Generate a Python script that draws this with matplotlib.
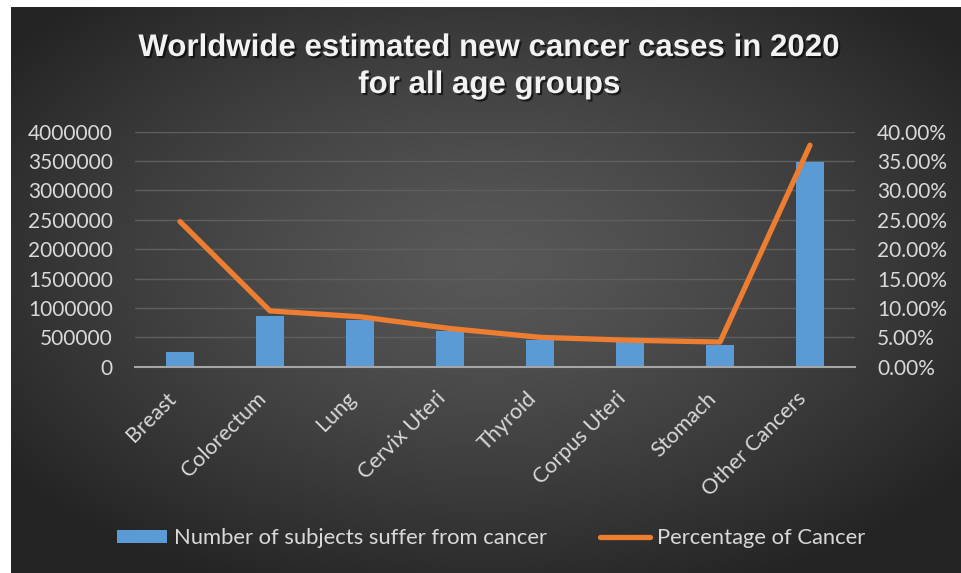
import matplotlib.pyplot as plt
import matplotlib.patheffects as pe
from matplotlib.patches import Patch
from matplotlib.lines import Line2D
from matplotlib.ticker import FuncFormatter, MultipleLocator
import numpy as np

# data
cancers = ['Breast', 'Colorectum', 'Lung', 'Cervix Uteri', 'Thyroid',
           'Corpus Uteri', 'Stomach', 'Other Cancers']
subjects = [245000, 870000, 800000, 605000, 455000, 420000, 370000, 3490000]
percent = [0.247, 0.095, 0.085, 0.065, 0.050, 0.045, 0.042, 0.377]

W, H = 962, 573
fig = plt.figure(figsize=(W / 100, H / 100), dpi=100)
fig.patch.set_facecolor('white')

# dark radial gradient background (white strip left and top)
bg = fig.add_axes([11 / W, 0, (W - 11) / W, (H - 7) / H])
bg.set_axis_off()
yy, xx = np.mgrid[0:1:300j, 0:1:500j]
r = np.sqrt(((xx - 0.5) / 0.62) ** 2 + ((yy - 0.45) / 0.62) ** 2)
shade = np.clip(0.345 - 0.2 * r ** 1.3, 0.14, 1)
bg.imshow(np.dstack([shade] * 3), aspect='auto', extent=[0, 1, 0, 1],
          interpolation='bicubic')
bg.set_xlim(0, 1)
bg.set_ylim(0, 1)

txt = '#d9d9d9'
fnt = ['Lato', 'DejaVu Sans']
fsz = 15

ax = fig.add_axes([135 / W, 1 - 366.7 / H, 720 / W, 235 / H])
ax.set_facecolor('none')
x = np.arange(len(cancers))
ax.bar(x, subjects, width=0.31, color='#5b9bd5', zorder=3)
ax.set_xlim(-0.5, len(cancers) - 0.5)
ax.set_ylim(0, 4000000)
ax.yaxis.set_major_locator(MultipleLocator(500000))
ax.yaxis.set_major_formatter(FuncFormatter(lambda v, p: '%d' % v))
ax.grid(axis='y', color='#5f5f5f', lw=1, zorder=0)
for s in ['top', 'left', 'right']:
    ax.spines[s].set_visible(False)
ax.spines['bottom'].set_color('#a6a6a6')
ax.spines['bottom'].set_linewidth(1.5)
ax.spines['bottom'].set_zorder(4)
ax.set_xticks(x)
ax.set_xticklabels(cancers, rotation=45, ha='right', va='top')
ax.tick_params(axis='x', length=0, pad=15.5, colors=txt, labelsize=15.5)
ax.tick_params(axis='y', length=0, pad=16, colors=txt, labelsize=fsz)
for t in ax.get_xticklabels() + ax.get_yticklabels():
    t.set_family(fnt)

ax2 = ax.twinx()
ax2.plot(x, percent, color='#ed7d31', lw=3.8, solid_capstyle='round',
         solid_joinstyle='round', zorder=5)
ax2.set_ylim(0, 0.40)
ax2.yaxis.set_major_locator(MultipleLocator(0.05))
ax2.yaxis.set_major_formatter(FuncFormatter(lambda v, p: '%.2f%%' % (v * 100)))
for s in ax2.spines.values():
    s.set_visible(False)
ax2.tick_params(axis='y', length=0, pad=16, colors=txt, labelsize=fsz)
for t in ax2.get_yticklabels():
    t.set_family(fnt)

title_font = ['Liberation Sans', 'DejaVu Sans']
shadow = [pe.withSimplePatchShadow(offset=(1.5, -1.5), shadow_rgbFace='black', alpha=0.6)]
fig.text(489 / W, 1 - 48 / H, 'Worldwide estimated new cancer cases in 2020',
         ha='center', va='center', color='#f2f2f2', fontsize=22.5,
         fontweight='bold', family=title_font, path_effects=shadow)
fig.text(489 / W, 1 - 85 / H, 'for all age groups',
         ha='center', va='center', color='#f2f2f2', fontsize=22.5,
         fontweight='bold', family=title_font, path_effects=shadow)

handles = [Patch(facecolor='#5b9bd5', edgecolor='none',
                 label='Number of subjects suffer from cancer'),
           Line2D([], [], color='#ed7d31', lw=3.8, solid_capstyle='round',
                  label='Percentage of Cancer')]
leg = fig.legend(handles=handles, loc='center', ncol=2,
                 bbox_to_anchor=(491 / W, 1 - 538 / H), frameon=False,
                 handlelength=2.3, handleheight=0.55, handletextpad=0.3,
                 columnspacing=2.4, prop={'family': fnt, 'size': 15.8})
for t in leg.get_texts():
    t.set_color(txt)

fig.savefig('out.png', dpi=100)
